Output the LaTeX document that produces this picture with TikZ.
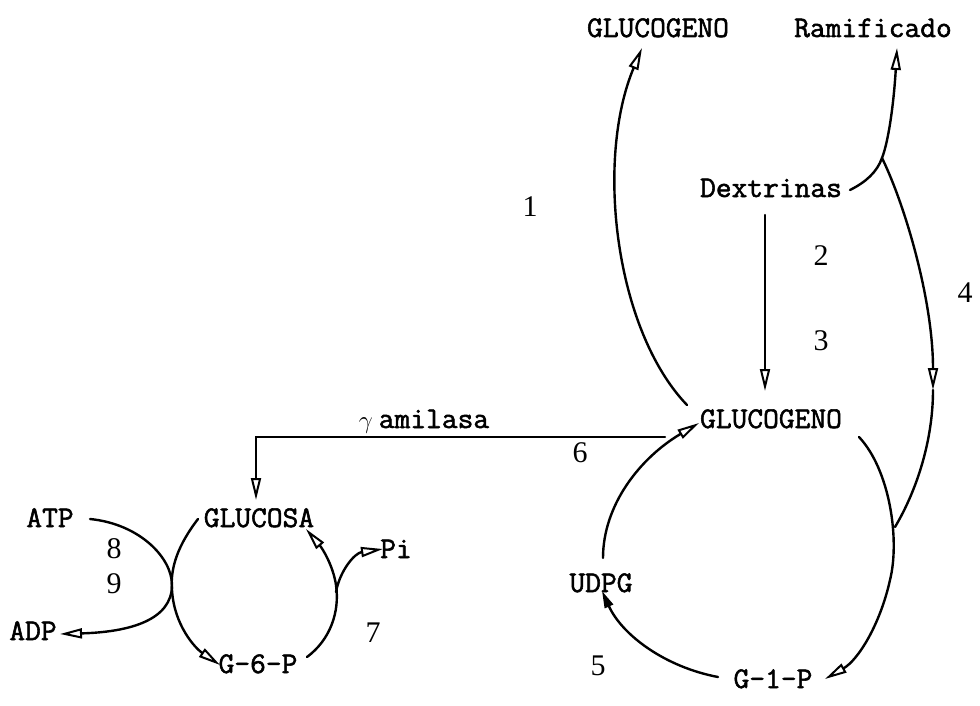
\documentclass[tikz,border=0pt]{standalone}
\usepackage{fontspec}
\usetikzlibrary{arrows.meta}
\newfontfamily\labfont[FakeStretch=1.02,FakeBold=1.8]{Latin Modern Mono}
\newfontfamily\numfont{Liberation Serif}
\begin{document}
\begin{tikzpicture}[x=1pt,y=-1pt,
  lab/.style={anchor=base,inner sep=0pt,font=\labfont\fontsize{30}{34}\selectfont},
  num/.style={anchor=base,inner sep=0pt,font=\numfont\fontsize{30}{34}\selectfont},
  conn/.style={line width=2.4pt,line cap=round},
  openhead/.style={conn,-{Triangle[open,length=22pt,width=10pt,line width=2pt]}},
  fullhead/.style={conn,-{Triangle[length=17pt,width=9pt]}}]
\useasboundingbox (0,0) rectangle (980,706);

% compounds
\node[lab] (gtop) at (658,37) {GLUCOGENO};
\node[lab] (ram) at (873,37) {Ramificado};
\node[lab] (dex) at (771,197) {Dextrinas};
\node[lab] (gmid) at (771,428) {GLUCOGENO};
\node[lab] (g1p) at (773,688) {G-1-P};
\node[lab] (udpg) at (601,592) {UDPG};
\node[lab] (amil) at (424,428) {\fontsize{36}{38}\selectfont$\gamma$\,\fontsize{30}{34}\selectfont amilasa};
\node[lab] (glcs) at (259,527) {GLUCOSA};
\node[lab] (atp) at (50,527) {ATP};
\node[lab] (adp) at (33,640) {ADP};
\node[lab] (pi) at (396,558) {Pi};
\node[lab] (g6p) at (258,673) {G-6-P};

% step numbers
\node[num] (n1) at (530,216) {1};
\node[num] (n2) at (821,265) {2};
\node[num] (n3) at (821,350) {3};
\node[num] (n4) at (965,302) {4};
\node[num] (n5) at (598,675) {5};
\node[num] (n6) at (580,462) {6};
\node[num] (n7) at (373,642) {7};
\node[num] (n8) at (114,558) {8};
\node[num] (n9) at (114,593) {9};

% connector end points
\coordinate (gmidNW) at (687,405);
\coordinate (gtopS) at (642,48);
\coordinate (dexE) at (850,190);
\coordinate (fork) at (882,158);
\coordinate (ramS) at (897,48);
\coordinate (mid4) at (933,390);
\coordinate (join4) at (895,527);
\coordinate (dexS) at (765,215);
\coordinate (gmidN) at (765,391);
\coordinate (gmidE) at (859,437);
\coordinate (g1pE) at (825,679);
\coordinate (g1pW) at (718,677);
\coordinate (udpgS) at (602,591);
\coordinate (udpgN) at (603,558);
\coordinate (gmidW) at (699,423);
\coordinate (amilE) at (665,437);
\coordinate (glcsN) at (256,500);
\coordinate (atpE) at (90,519);
\coordinate (adpE) at (60,634);
\coordinate (glcsW) at (198,519);
\coordinate (g6pW) at (220,665);
\coordinate (g6pE) at (307,657);
\coordinate (glcsE) at (306,529);
\coordinate (cross7) at (336,592);
\coordinate (piW) at (383,549);

% glycogen chain elongation (1)
\draw[openhead] (gmidNW) .. controls (615,330) and (595,160) .. (gtopS);
% dextrins to branched glycogen
\draw[conn] (dexE) .. controls (866,182) and (877,172) .. (fork);
\draw[openhead] (fork) .. controls (889,140) and (894,100) .. (ramS);
% pathway 4
\draw[openhead] (fork) .. controls (905,205) and (933,300) .. (mid4);
\draw[conn] (mid4) .. controls (933,440) and (917,490) .. (join4);
% pathway 2,3
\draw[openhead] (dexS) -- (gmidN);
% glycogen to G-1-P
\draw[openhead] (gmidE) .. controls (890,470) and (900,540) .. (890,580)
  .. controls (880,625) and (858,660) .. (g1pE);
% G-1-P to UDPG (5)
\draw[fullhead] (g1pW) .. controls (665,667) and (622,635) .. (udpgS);
% UDPG to glycogen
\draw[openhead] (udpgN) .. controls (603,505) and (640,458) .. (gmidW);
% gamma amylase (6)
\draw[openhead] (amilE) -| (glcsN);
% hexokinase with ATP / ADP (8, 9)
\draw[openhead] (atpE) .. controls (140,524) and (172,558) .. (172,585)
  .. controls (172,620) and (130,632) .. (adpE);
\draw[openhead] (glcsW) .. controls (178,545) and (170,568) .. (172,590)
  .. controls (174,625) and (195,648) .. (g6pW);
% glucose-6-phosphatase with Pi (7)
\draw[openhead] (g6pE) .. controls (330,640) and (340,612) .. (336,585)
  .. controls (333,565) and (322,548) .. (glcsE);
\draw[openhead] (cross7) .. controls (340,570) and (355,553) .. (piW);
\end{tikzpicture}
\end{document}
